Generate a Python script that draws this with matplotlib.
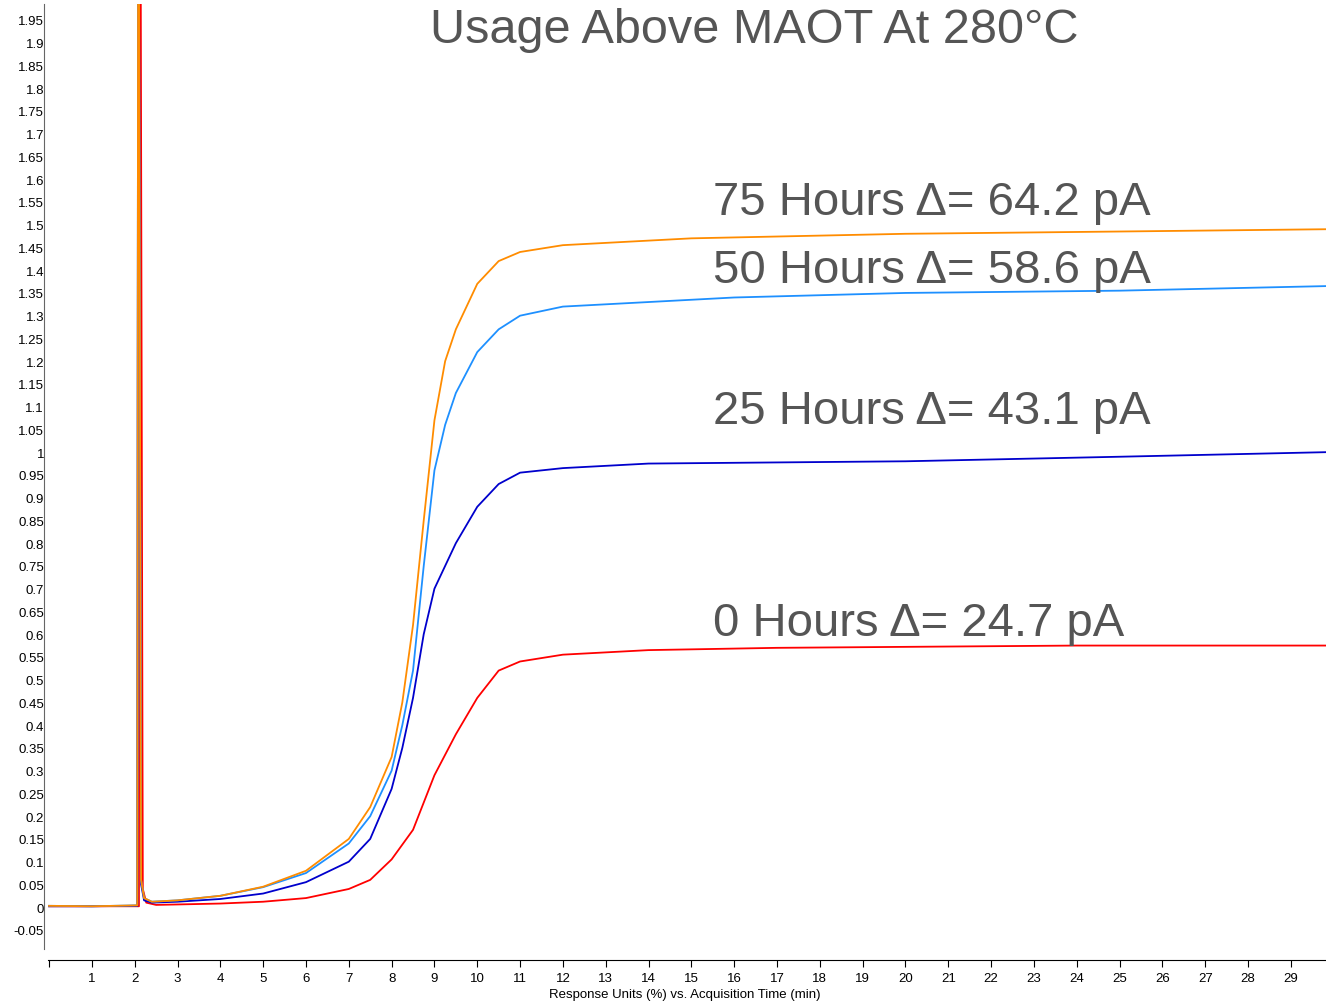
import matplotlib
matplotlib.use("Agg")
import matplotlib.pyplot as plt
import numpy as np

plt.rcParams["font.family"] = ["Liberation Sans", "DejaVu Sans"]

t_75 = [0, 1, 2.06, 2.08, 2.1, 2.15, 2.22, 2.4, 3, 4, 5, 6, 7, 7.5, 8, 8.25, 8.5, 8.75, 9, 9.25, 9.5, 10, 10.5, 11, 12, 13, 15, 20, 25, 29.8]
v_75 = [0.003, 0.002, 0.004, 2.1, 2.1, 0.06, 0.02, 0.012, 0.015, 0.025, 0.045, 0.08, 0.15, 0.22, 0.33, 0.45, 0.62, 0.85, 1.07, 1.2, 1.27, 1.37, 1.42, 1.44, 1.455, 1.46, 1.47, 1.48, 1.485, 1.49]
t_50 = [0, 1, 2.06, 2.08, 2.1, 2.15, 2.22, 2.4, 3, 4, 5, 6, 7, 7.5, 8, 8.25, 8.5, 8.75, 9, 9.25, 9.5, 10, 10.5, 11, 12, 14, 16, 20, 25, 29.8]
v_50 = [0.003, 0.002, 0.004, 2.1, 2.1, 0.06, 0.02, 0.012, 0.015, 0.025, 0.044, 0.075, 0.14, 0.2, 0.3, 0.4, 0.52, 0.75, 0.96, 1.06, 1.13, 1.22, 1.27, 1.3, 1.32, 1.33, 1.34, 1.35, 1.355, 1.365]
t_25 = [0, 1, 2.06, 2.08, 2.1, 2.15, 2.22, 2.4, 3, 4, 5, 6, 7, 7.5, 8, 8.25, 8.5, 8.75, 9, 9.5, 10, 10.5, 11, 12, 14, 20, 25, 29.8]
v_25 = [0.002, 0.002, 0.003, 2.1, 2.1, 0.05, 0.015, 0.01, 0.012, 0.018, 0.03, 0.055, 0.1, 0.15, 0.26, 0.35, 0.46, 0.6, 0.7, 0.8, 0.88, 0.93, 0.955, 0.965, 0.975, 0.98, 0.99, 1.0]
t_0 = [0, 1, 2.1, 2.12, 2.14, 2.19, 2.27, 2.5, 3, 4, 5, 6, 7, 7.5, 8, 8.5, 9, 9.5, 10, 10.5, 11, 12, 14, 17, 24, 29.8]
v_0 = [0.002, 0.002, 0.002, 2.1, 2.1, 0.04, 0.01, 0.005, 0.006, 0.008, 0.012, 0.02, 0.04, 0.06, 0.105, 0.17, 0.29, 0.38, 0.46, 0.52, 0.54, 0.555, 0.565, 0.57, 0.575, 0.575]

labels = ["75 Hours \u0394= 64.2 pA", "50 Hours \u0394= 58.6 pA", "25 Hours \u0394= 43.1 pA", "0 Hours \u0394= 24.7 pA"]
label_y = [1.55, 1.40, 1.09, 0.625]

fig = plt.figure(figsize=(13.26, 10.03), dpi=100)
ax = fig.add_axes([0.0332, 0.0528, 0.9668, 0.9422])
ax.plot(t_0, v_0, color="#ff0000", lw=1.3)
ax.plot(t_25, v_25, color="#0000cc", lw=1.3)
ax.plot(t_50, v_50, color="#1e90ff", lw=1.3)
ax.plot(t_75, v_75, color="#ff8c00", lw=1.3)

ax.set_xlim(-0.117, 29.82)
ax.set_ylim(-0.092, 1.985)
ax.spines["top"].set_visible(False)
ax.spines["right"].set_visible(False)
ax.spines["left"].set_color("#666666")
ax.spines["bottom"].set_position(("outward", 8))
ax.spines["bottom"].set_bounds(-0.02, 29.82)
ax.set_xticks(range(0, 30))
ax.set_xticklabels([""] + [str(i) for i in range(1, 30)], fontsize=9.5)
ax.tick_params(axis="x", length=5, direction="out")
yt = np.round(np.arange(-0.05, 1.96, 0.05), 2)
ax.set_yticks(yt)
ax.set_yticklabels([("%g" % v) if v != 0 else "0" for v in yt], fontsize=9.5)
ax.tick_params(axis="y", length=0, pad=0)
ax.set_xlabel("Response Units (%) vs. Acquisition Time (min)", fontsize=9.5, labelpad=3)

fig.text(0.569, 0.97, "Usage Above MAOT At 280\u00b0C", fontsize=35, color="#555555", ha="center", va="center")
for lab, y in zip(labels, label_y):
    ax.text(15.5, y, lab, fontsize=34, color="#555555", ha="left", va="center")

fig.savefig("out.png", dpi=100)
